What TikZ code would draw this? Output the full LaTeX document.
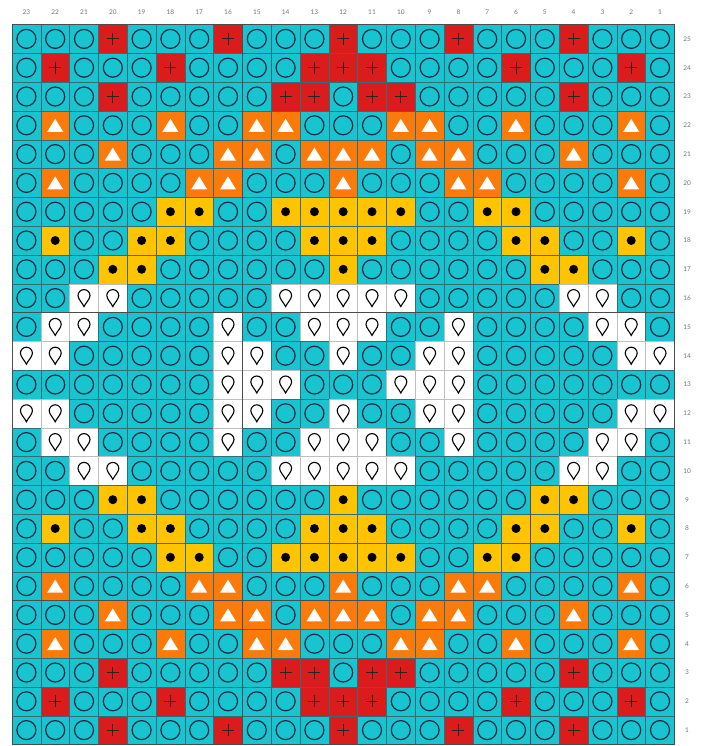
\documentclass[tikz,border=0pt]{standalone}
\usepackage{fontspec}
\setmainfont{Lato}
\usepackage{tikz}
\definecolor{chcyan}{RGB}{24,196,208}
\definecolor{chred}{RGB}{218,28,28}
\definecolor{chorange}{RGB}{250,122,10}
\definecolor{chyellow}{RGB}{255,196,0}
\definecolor{chink}{RGB}{22,42,66}
\definecolor{chgrid}{RGB}{50,110,120}
\tikzset{
  cell/.style={draw=chgrid, line width=0.3pt, minimum size=28.8pt, inner sep=0pt, outer sep=0pt},
  cellO/.style={cell, fill=chcyan},
  cellR/.style={cell, fill=chred},
  cellT/.style={cell, fill=chorange},
  cellY/.style={cell, fill=chyellow},
  cellW/.style={cell, fill=white, draw=black!25},
  symO/.pic={\draw[chink, line width=1.2pt] (0,0) circle (9.5pt);},
  symR/.pic={\draw[black!85, line width=1pt] (-6pt,0) -- (6pt,0) (0,-6pt) -- (0,6pt);},
  symT/.pic={\fill[white] (0,6.5pt) -- (-8pt,-6.5pt) -- (8pt,-6.5pt) -- cycle;},
  symY/.pic={\fill[black] (0,0) circle (4.5pt);},
  symW/.pic={\draw[black, line width=1.1pt, fill=white] (0,-8.5pt) .. controls (-1.5pt,-5pt) and (-6pt,-1pt) .. (-6pt,2.5pt) arc (180:0:6pt) .. controls (6pt,-1pt) and (1.5pt,-5pt) .. cycle;},
  major/.style={draw=black!70, line width=0.7pt},
  lbl/.style={font=\fontsize{6.5}{7}\selectfont, text=black!55},
}
\begin{document}
\begin{tikzpicture}[x=28.8pt, y=28.8pt]
  \useasboundingbox (-0.417,-0.052) rectangle (24.132,25.851);
  \foreach \r/\cells in {
    25/{O,O,O,R,O,O,O,R,O,O,O,R,O,O,O,R,O,O,O,R,O,O,O},
    24/{O,R,O,O,O,R,O,O,O,O,R,R,R,O,O,O,O,R,O,O,O,R,O},
    23/{O,O,O,R,O,O,O,O,O,R,R,O,R,R,O,O,O,O,O,R,O,O,O},
    22/{O,T,O,O,O,T,O,O,T,T,O,O,O,T,T,O,O,T,O,O,O,T,O},
    21/{O,O,O,T,O,O,O,T,T,O,T,T,T,O,T,T,O,O,O,T,O,O,O},
    20/{O,T,O,O,O,O,T,T,O,O,O,T,O,O,O,T,T,O,O,O,O,T,O},
    19/{O,O,O,O,O,Y,Y,O,O,Y,Y,Y,Y,Y,O,O,Y,Y,O,O,O,O,O},
    18/{O,Y,O,O,Y,Y,O,O,O,O,Y,Y,Y,O,O,O,O,Y,Y,O,O,Y,O},
    17/{O,O,O,Y,Y,O,O,O,O,O,O,Y,O,O,O,O,O,O,Y,Y,O,O,O},
    16/{O,O,W,W,O,O,O,O,O,W,W,W,W,W,O,O,O,O,O,W,W,O,O},
    15/{O,W,W,O,O,O,O,W,O,O,W,W,W,O,O,W,O,O,O,O,W,W,O},
    14/{W,W,O,O,O,O,O,W,W,O,O,W,O,O,W,W,O,O,O,O,O,W,W},
    13/{O,O,O,O,O,O,O,W,W,W,O,O,O,W,W,W,O,O,O,O,O,O,O},
    12/{W,W,O,O,O,O,O,W,W,O,O,W,O,O,W,W,O,O,O,O,O,W,W},
    11/{O,W,W,O,O,O,O,W,O,O,W,W,W,O,O,W,O,O,O,O,W,W,O},
    10/{O,O,W,W,O,O,O,O,O,W,W,W,W,W,O,O,O,O,O,W,W,O,O},
    9/{O,O,O,Y,Y,O,O,O,O,O,O,Y,O,O,O,O,O,O,Y,Y,O,O,O},
    8/{O,Y,O,O,Y,Y,O,O,O,O,Y,Y,Y,O,O,O,O,Y,Y,O,O,Y,O},
    7/{O,O,O,O,O,Y,Y,O,O,Y,Y,Y,Y,Y,O,O,Y,Y,O,O,O,O,O},
    6/{O,T,O,O,O,O,T,T,O,O,O,T,O,O,O,T,T,O,O,O,O,T,O},
    5/{O,O,O,T,O,O,O,T,T,O,T,T,T,O,T,T,O,O,O,T,O,O,O},
    4/{O,T,O,O,O,T,O,O,T,T,O,O,O,T,T,O,O,T,O,O,O,T,O},
    3/{O,O,O,R,O,O,O,O,O,R,R,O,R,R,O,O,O,O,O,R,O,O,O},
    2/{O,R,O,O,O,R,O,O,O,O,R,R,R,O,O,O,O,R,O,O,O,R,O},
    1/{O,O,O,R,O,O,O,R,O,O,O,R,O,O,O,R,O,O,O,R,O,O,O}} {
    \foreach \k [count=\c] in \cells {
      \node[cell\k] (n-\c-\r) at (\c-0.5,\r-0.5) {};
      \pic at (n-\c-\r) {sym\k};
    }
  }
  \draw[major] (n-8-1.south east) -- (n-8-25.north east);
  \draw[major] (n-18-1.south east) -- (n-18-25.north east);
  \draw[major] (n-1-5.north west) -- (n-23-5.north east);
  \draw[major] (n-1-15.north west) -- (n-23-15.north east);
  \draw[major] (n-1-1.south west) rectangle (n-23-25.north east);
  \foreach \c in {1,...,23} {
    \pgfmathtruncatemacro\num{24-\c}
    \node[lbl] (col-\c) at (\c-0.5,25.417) {\num};
  }
  \foreach \r in {1,...,25}
    \node[lbl] (row-\r) at (23.44,\r-0.5) {\r};
\end{tikzpicture}
\end{document}
